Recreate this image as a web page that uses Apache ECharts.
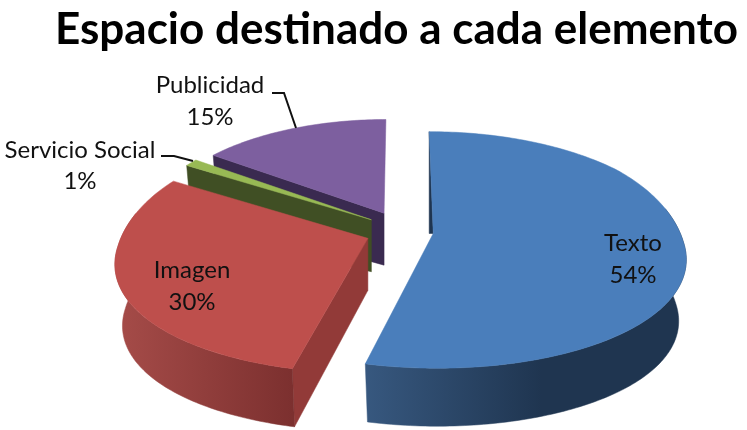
<!DOCTYPE html>
<html><head><meta charset="utf-8">
<style>html,body{margin:0;padding:0;background:#fff}#c{width:747px;height:430px}</style>
<script src="https://cdn.jsdelivr.net/npm/echarts@6/dist/echarts.min.js"></script>
</head><body><div id="c"></div>
<script>
const titleText = 'Espacio destinado a cada elemento';
const categories = ['Texto', 'Imagen', 'Servicio Social', 'Publicidad'];
const values = [54, 30, 1, 15];
const topColors = ['#4a7ebb', '#be4f4c', '#98b954', '#7d5f9f'];
const wallColors = ['#1f3550', '#923a38', '#404f24', '#3a2a50'];
const sideStops = [['#37587f', '#1f3550'], ['#a64c49', '#7c302f'], ['#404f24', '#404f24'], ['#3a2a50', '#3a2a50']];
const labelPos = [[633, 243, 275], [192, 270, 302], [80, 150, 181], [210, 85, 117]];
const leaders = [null, null, [[161, 156], [174, 156], [193, 161]], [[272, 93], [284, 93], [296, 128]]];

const cx = 399.5, cy = 231, explodeX = 34, explodeY = 20;
const rx = 250, ry = 116, persp = 0.139, shrink = 0.03, backScale = 0.09, sag = 8, lean = 0.12;
const depthInner = 52, depthOuter = 62;
const total = values.reduce((a, b) => a + b, 0);
const D = Math.PI / 180;

function geom(i) {
  let s = 0;
  for (let j = 0; j < i; j++) s += values[j];
  const a0 = s / total * 360, a1 = (s + values[i]) / total * 360, m = (a0 + a1) / 2 * D;
  const ax = cx + explodeX * Math.sin(m), ay = cy - explodeY * Math.cos(m);
  const back = Math.min(1, 1 - backScale * Math.cos(m));
  const P = (deg, r, z) => {
    const u = r * Math.sin(deg * D), v = -r * Math.cos(deg * D);
    const f = 1 / (1 - persp * v), g = (1 - shrink * z) * back;
    const droop = Math.max(0, Math.min(1, (v + 0.6) / 0.6));
    return [
      ax + rx * u * f * g + lean * (ax - cx) * v,
      ay + ry * v * f * g + sag * u * u * droop + (depthInner + (depthOuter - depthInner) * r) * z
    ];
  };
  return { a0, a1, P };
}
function arc(P, a, b, r, z) {
  const out = [], n = Math.max(2, Math.ceil(Math.abs(b - a)));
  for (let k = 0; k <= n; k++) out.push(P(a + (b - a) * k / n, r, z));
  return out;
}
function renderItem(params, api) {
  const i = params.dataIndex, { a0, a1, P } = geom(i);
  const base = (values.length - i) * 10;
  const kids = [];
  const poly = (points, fill, z2) => kids.push({ type: 'polygon', z2: base + z2, shape: { points }, style: { fill, stroke: fill, lineWidth: 0.5 } });
  // outer curved side, only the part facing the viewer
  const s0 = Math.max(a0, 75), s1 = Math.min(a1, 285);
  if (s1 > s0) {
    const t = arc(P, s0, s1, 1, 0), b = arc(P, s1, s0, 1, 1);
    const xs = t.map(p => p[0]);
    const x0 = Math.min(...xs), x1 = Math.max(...xs);
    const c = sideStops[i];
    const fill = i === 0
      ? new echarts.graphic.LinearGradient(x0, 0, x1, 0, [{ offset: 0, color: c[0] }, { offset: 0.55, color: c[1] }, { offset: 1, color: c[1] }], true)
      : new echarts.graphic.LinearGradient(x0, 0, x1, 0, [{ offset: 0, color: c[0] }, { offset: 1, color: c[1] }], true);
    poly(t.concat(b), fill, 1);
  }
  // flat cut wall facing the viewer
  if (i > 0) {
    poly([P(a0, 0, 0), P(a0, 1, 0), P(a0, 1, 1), P(a0, 0, 1)], wallColors[i], 0);
  } else {
    const apex = P(a0, 0, 0), tip = P(a0, 1, 0);
    poly([tip, apex, [tip[0], apex[1]]], wallColors[i], 0);
  }
  // top face
  poly([P(a0, 0, 0)].concat(arc(P, a0, a1, 1, 0)), topColors[i], 2);
  // label
  const lp = labelPos[i];
  const txt = (t, y) => kids.push({ type: 'text', z2: 200, style: { x: lp[0], y, text: t, fill: '#111', font: '24px Lato', align: 'center', verticalAlign: 'middle' } });
  txt(categories[i], lp[1]);
  txt(Math.round(values[i] / total * 100) + '%', lp[2]);
  if (leaders[i]) kids.push({ type: 'polyline', z2: 200, shape: { points: leaders[i] }, style: { fill: 'none', stroke: '#111', lineWidth: 2 } });
  return { type: 'group', children: kids };
}
const chart = echarts.init(document.getElementById('c'), null, { renderer: 'canvas' });
chart.setOption({
  animation: false,
  backgroundColor: '#fff',
  title: { text: titleText, left: 50, top: 3, textStyle: { fontFamily: 'Lato', fontWeight: 'bold', fontSize: 44, color: '#000' } },
  series: [{ type: 'custom', coordinateSystem: 'none', renderItem, data: values.map((v, i) => ({ name: categories[i], value: v })) }]
});
</script></body></html>
